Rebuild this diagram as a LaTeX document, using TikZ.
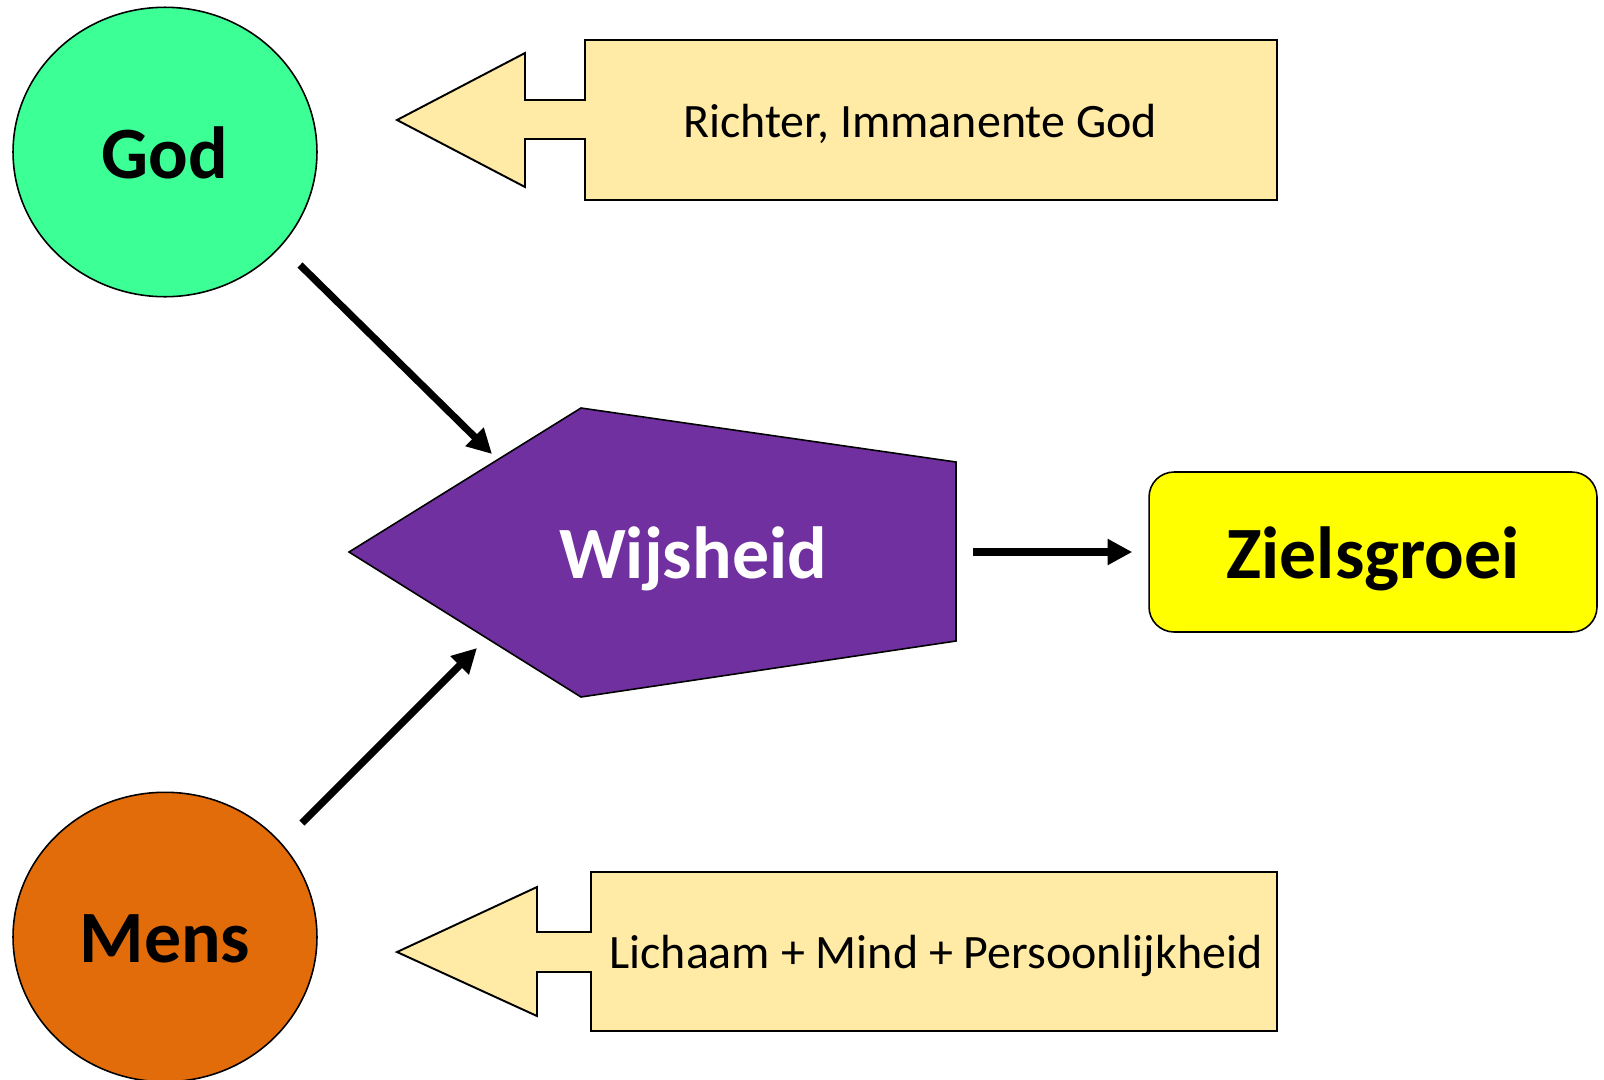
\documentclass[tikz,border=0pt]{standalone}
\usepackage{fontspec}
\setmainfont{Carlito}
\usepackage{tikz}
\usetikzlibrary{calc,arrows.meta,shapes.geometric}
\definecolor{mint}{HTML}{3CFF96}
\definecolor{rust}{HTML}{E36C0A}
\definecolor{plum}{HTML}{7030A0}
\definecolor{lemon}{HTML}{FFFF00}
\definecolor{cream}{HTML}{FFEBA5}
\tikzset{
  orb/.style={ellipse, draw=black, line width=0.9pt, minimum width=6.08cm, minimum height=5.79cm, inner sep=0pt},
  big/.style={font=\bfseries\fontsize{42}{48}\selectfont},
  note/.style={font=\fontsize{27.3}{32}\selectfont, text=black},
  callout/.style={draw=black, fill=cream, line width=1.1pt, line join=miter},
  blob/.style={draw=black, fill=plum, line width=0.9pt},
  goal/.style={draw=black, fill=lemon, line width=0.9pt, rounded corners=0.5cm, minimum width=8.96cm, minimum height=3.2cm},
  flow/.style={draw=black, line width=4.1pt, -{Triangle[length=14pt, width=14pt]}},
}
\begin{document}
\begin{tikzpicture}[x=0.02cm, y=-0.02cm]
  \useasboundingbox (0,0) rectangle (1604,1079);

  \node[orb, fill=mint] (god) at (165,152) {};
  \node[big] at (165,153) {God};
  \node[orb, fill=rust] (mens) at (165,937) {};
  \node[big] at (165,939) {Mens};

  \draw[blob] (349,552) -- (581,408) -- (956,462) -- (956,641) -- (581,697) -- cycle;
  \node[big, text=white] (wijs) at (693,559) {Wijsheid};
  \node[goal] (groei) at (1373,552) {};
  \node[big] at (1373,559) {Zielsgroei};

  \draw[callout] (397,120) -- (525,53) -- (525,100) -- (585,100) -- (585,40) -- (1277,40)
    -- (1277,200) -- (585,200) -- (585,139) -- (525,139) -- (525,187) -- cycle;
  \node[note] (richter) at (920,124) {Richter, Immanente God};
  \draw[callout] (397,952) -- (537,887) -- (537,932) -- (591,932) -- (591,872) -- (1277,872)
    -- (1277,1031) -- (591,1031) -- (591,972) -- (537,972) -- (537,1016) -- cycle;
  \node[note] (lichaam) at (936,956) {Lichaam + Mind + Persoonlijkheid};

  \coordinate (godOut) at (300,265);
  \coordinate (wijsNW) at (492,454);
  \coordinate (mensOut) at (302,823);
  \coordinate (wijsSW) at (477,648);
  \coordinate (wijsE) at (973,552);
  \draw[flow] (godOut) -- (wijsNW);
  \draw[flow] (mensOut) -- (wijsSW);
  \draw[flow, shorten >=0.32cm] (wijsE) -- (groei.west);
\end{tikzpicture}
\end{document}
